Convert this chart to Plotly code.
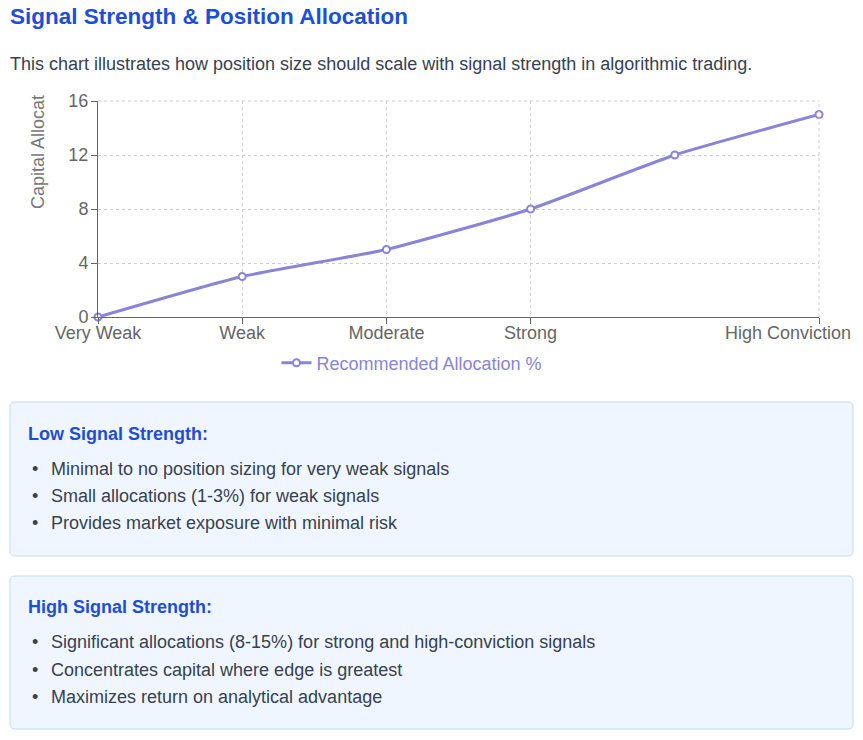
import plotly.graph_objects as go

W, H = 863, 740

# ---- data ----
categories = ["Very Weak", "Weak", "Moderate", "Strong", "Very Strong", "High Conviction"]
allocation = [0, 3, 5, 8, 12, 15]
shown_labels = ["Very Weak", "Weak", "Moderate", "Strong", "High Conviction"]
y_ticks = [0, 4, 8, 12, 16]

title_text = "Signal Strength & Position Allocation"
subtitle_text = "This chart illustrates how position size should scale with signal strength in algorithmic trading."
low_title = "Low Signal Strength:"
low_points = [
    "Minimal to no position sizing for very weak signals",
    "Small allocations (1-3%) for weak signals",
    "Provides market exposure with minimal risk",
]
high_title = "High Signal Strength:"
high_points = [
    "Significant allocations (8-15%) for strong and high-conviction signals",
    "Concentrates capital where edge is greatest",
    "Maximizes return on analytical advantage",
]

FONT = "Liberation Sans, Arial, sans-serif"
LINE = "#8884d8"
BLUE = "#1d4ed8"
TXT = "#374151"
FS = 18
DASH = "3px,3px"


def px(x):
    return x / W


def py(y):
    return 1 - y / H


fig = go.Figure()
fig.add_trace(go.Scatter(
    x=list(range(len(categories))), y=allocation,
    mode="lines+markers", name="Recommended Allocation %",
    line=dict(color=LINE, width=3, shape="spline", smoothing=0.5),
    marker=dict(size=7, color="white", line=dict(color=LINE, width=2)),
    cliponaxis=False,
))

last_idx = categories.index(shown_labels[-1])
main_idx = [categories.index(c) for c in shown_labels]
main_text = [c if c != shown_labels[-1] else "" for c in shown_labels]

axis_common = dict(
    showline=True, linecolor="#666", linewidth=1,
    ticks="outside", ticklen=6, tickcolor="#666",
    showgrid=True, gridcolor="#ccc", griddash=DASH, gridwidth=1,
    zeroline=False, tickfont=dict(family=FONT, size=FS, color="#666"),
)

fig.update_layout(
    width=W, height=H,
    margin=dict(l=0, r=0, t=0, b=0, autoexpand=False),
    paper_bgcolor="white", plot_bgcolor="white",
    font=dict(family=FONT, size=FS, color="#666"),
    xaxis=dict(
        domain=[px(98), px(819)], range=[0, len(categories) - 1],
        tickmode="array", tickvals=main_idx, ticktext=main_text,
        ticklabelstandoff=-7, **axis_common,
    ),
    # last category label is kept inside the chart (end-aligned), as in the reference
    xaxis2=dict(
        overlaying="x", matches="x", anchor="y", side="bottom",
        domain=[px(98), px(819)],
        tickmode="array", tickvals=[last_idx], ticktext=[shown_labels[-1]],
        ticks="", showline=False, showgrid=False, zeroline=False,
        ticklabelshift=-31, ticklabelstandoff=3, ticklabeloverflow="allow",
        tickfont=dict(family=FONT, size=FS, color="#666"),
    ),
    yaxis=dict(
        domain=[py(317), py(101)], range=[0, 16],
        tickmode="array", tickvals=y_ticks,
        ticklabelstandoff=-1, **axis_common,
    ),
    legend=dict(
        x=px(412), y=py(363), xanchor="center", yanchor="middle",
        orientation="h", font=dict(size=FS, color=LINE),
        bgcolor="rgba(0,0,0,0)",
    ),
    showlegend=True,
)

# invisible helper trace so that xaxis2 is drawn
fig.add_trace(go.Scatter(x=[last_idx], y=[allocation[last_idx]], xaxis="x2",
                         mode="markers", marker=dict(opacity=0),
                         showlegend=False, hoverinfo="skip"))

# top and right dashed borders of grid
fig.add_shape(type="line", xref="paper", yref="paper",
              x0=px(98), x1=px(819), y0=py(101), y1=py(101),
              line=dict(color="#ccc", width=1, dash=DASH))
fig.add_shape(type="line", xref="paper", yref="paper",
              x0=px(819), x1=px(819), y0=py(317), y1=py(101),
              line=dict(color="#ccc", width=1, dash=DASH))


def rounded_box(x0, y0, x1, y1, r=5):
    rx, ry = r / W, r / H
    X0, X1 = px(x0), px(x1)
    Yt, Yb = py(y0), py(y1)
    path = (f"M {X0+rx},{Yt} L {X1-rx},{Yt} Q {X1},{Yt} {X1},{Yt-ry} "
            f"L {X1},{Yb+ry} Q {X1},{Yb} {X1-rx},{Yb} "
            f"L {X0+rx},{Yb} Q {X0},{Yb} {X0},{Yb+ry} "
            f"L {X0},{Yt-ry} Q {X0},{Yt} {X0+rx},{Yt} Z")
    fig.add_shape(type="path", xref="paper", yref="paper", path=path,
                  fillcolor="#eff6ff", line=dict(color="#bfdbfe", width=1),
                  layer="below")


def text(x, y, s, size=FS, color=TXT, bold=False, anchor="left"):
    if anchor == "left":
        x -= 2  # annotation inner padding
    fig.add_annotation(x=px(x), y=py(y), xref="paper", yref="paper",
                       text=f"<b>{s}</b>" if bold else s, showarrow=False,
                       xanchor=anchor, yanchor="middle",
                       font=dict(family=FONT, size=size, color=color))


text(10, 16, title_text, size=22.5, color=BLUE, bold=True)
text(10, 64, subtitle_text, size=FS, color=TXT)

fig.add_annotation(x=px(38), y=py(152), xref="paper", yref="paper",
                   text="Capital Allocat", textangle=-90, showarrow=False,
                   xanchor="center", yanchor="middle",
                   font=dict(family=FONT, size=FS, color="#777"))

rounded_box(10, 402, 853, 556)
text(28, 434, low_title, size=FS, color=BLUE, bold=True)
for i, s in enumerate(low_points):
    yy = 469 + i * 27
    text(35, yy, "•", size=FS, color=TXT, anchor="center")
    text(51, yy, s)

rounded_box(10, 576, 853, 729)
text(28, 607, high_title, size=FS, color=BLUE, bold=True)
for i, s in enumerate(high_points):
    yy = 642 + i * 27.5
    text(35, yy, "•", size=FS, color=TXT, anchor="center")
    text(51, yy, s)

fig.write_html("out.html", config={"displayModeBar": False},
               post_script="document.body.style.margin='0';")
